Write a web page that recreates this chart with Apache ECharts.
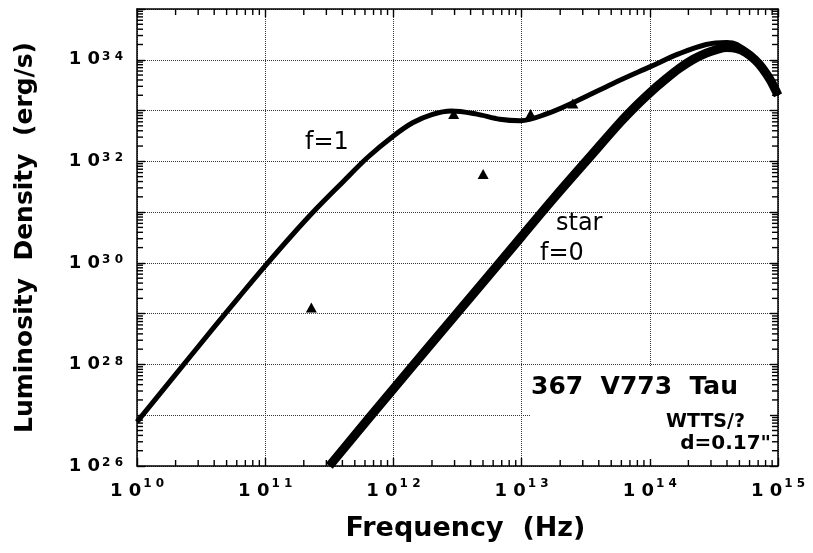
<!DOCTYPE html>
<html><head><meta charset="utf-8">
<script src="https://cdn.jsdelivr.net/npm/echarts@6/dist/echarts.min.js"></script>
<style>html,body{margin:0;padding:0;background:#fff}#c{width:813px;height:553px}</style>
</head><body><div id="c"></div>
<script>
// log10 of frequency (Hz) and log10 of luminosity density (erg/s)
const f1LogNu = [10.00,10.30,10.60,10.80,11.00,11.20,11.40,11.60,11.80,12.00,12.15,12.30,12.45,12.65,12.83,12.99,13.20,13.43,13.71,14.00,14.23,14.44,14.60,14.68,14.80,14.91,15.00];
const f1LogL  = [26.87,27.80,28.73,29.34,29.94,30.52,31.07,31.58,32.08,32.50,32.76,32.92,32.99,32.93,32.83,32.80,32.94,33.19,33.53,33.86,34.12,34.30,34.34,34.30,34.08,33.74,33.30];
const starLogNu = [11.50,12.00,12.50,13.00,13.25,13.53,13.77,13.90,14.00,14.12,14.23,14.34,14.44,14.52,14.60,14.68,14.75,14.82,14.88,14.94,15.00];
const starLogL  = [26.00,27.52,29.02,30.52,31.27,32.08,32.77,33.11,33.35,33.61,33.83,34.01,34.13,34.20,34.24,34.22,34.14,34.00,33.83,33.60,33.30];
const obsLogNu = [11.36,12.47,12.70,13.07,13.40];
const obsLogL  = [29.12,32.93,31.75,32.93,33.14];
const xLabelExps = [10,11,12,13,14,15];
const yLabelExps = [26,28,30,32,34];
const xMinExp = 10, xMaxExp = 15, yMinExp = 26, yMaxExp = 35;
const minorMultipliers = [2,3,4,5,6,7,8,9];

(function () {
const toPts = (xs, ys) => xs.map((x, i) => [Math.pow(10, x), Math.pow(10, ys[i])]);
const X0 = Math.pow(10, xMinExp), X1 = Math.pow(10, xMaxExp);
const Y0 = Math.pow(10, yMinExp), Y1 = Math.pow(10, yMaxExp);
const GRID = { left: 137, top: 9, width: 641, height: 457 };
const gTop = GRID.top, gBottom = GRID.top + GRID.height, gLeft = GRID.left, gRight = GRID.left + GRID.width;

const FONT = 'DejaVu Sans';
function expLabel(list) {
  return function (v) {
    const e = Math.round(Math.log10(v));
    if (list.indexOf(e) < 0) return '';
    return '{b|1 0}{s|' + String(e).split('').join(' ') + '}';
  };
}
const chart = echarts.init(document.getElementById('c'));

// minor tick marks (2..9 per decade), frame decoration
const TL = 6, TW = 1.4;
function xPixFallback(v) { return gLeft + (Math.log10(v) - xMinExp) / (xMaxExp - xMinExp) * GRID.width; }
function yPixFallback(v) { return gBottom - (Math.log10(v) - yMinExp) / (yMaxExp - yMinExp) * GRID.height; }
const tickEls = [];
for (let e = xMinExp; e < xMaxExp; e++) {
  minorMultipliers.forEach(m => {
    const px = xPixFallback(m * Math.pow(10, e));
    tickEls.push({ type: 'rect', silent: true, z: 200, shape: { x: px - TW / 2, y: gBottom - TL, width: TW, height: TL }, style: { fill: '#000' } });
    tickEls.push({ type: 'rect', silent: true, z: 200, shape: { x: px - TW / 2, y: gTop, width: TW, height: TL }, style: { fill: '#000' } });
  });
}
for (let e = yMinExp; e < yMaxExp; e++) {
  minorMultipliers.forEach(m => {
    const py = yPixFallback(m * Math.pow(10, e));
    tickEls.push({ type: 'rect', silent: true, z: 200, shape: { x: gLeft, y: py - TW / 2, width: TL, height: TW }, style: { fill: '#000' } });
    tickEls.push({ type: 'rect', silent: true, z: 200, shape: { x: gRight - TL, y: py - TW / 2, width: TL, height: TW }, style: { fill: '#000' } });
  });
}

const baseAxis = {
  type: 'log', logBase: 10,
  axisLine: { show: true, lineStyle: { color: '#000', width: 1.5 } },
  axisTick: { show: true, inside: true, length: 8, lineStyle: { color: '#000', width: 1.4 } },
};
const annotations = [
  { type: 'rect', z: 1, shape: { x: 530, y: 366, width: 240, height: 93 }, style: { fill: '#fff' } },
  { type: 'text', z: 100, left: 305, top: 131, style: { text: 'f=1', font: '24px "DejaVu Sans"', fill: '#000' } },
  { type: 'text', z: 100, left: 556, top: 212, style: { text: 'star', font: '24px "DejaVu Sans"', fill: '#000' } },
  { type: 'text', z: 100, left: 540, top: 242, style: { text: 'f=0', font: '24px "DejaVu Sans"', fill: '#000' } },
  { type: 'text', z: 100, left: 531, top: 375, style: { text: '367  V773  Tau', font: 'bold 25px "DejaVu Sans"', fill: '#000' } },
  { type: 'text', z: 100, right: 813 - 745, top: 413, style: { text: 'WTTS/?', font: 'bold 19px "DejaVu Sans"', fill: '#000' } },
  { type: 'text', z: 100, right: 813 - 771, top: 434, style: { text: 'd=0.17"', font: 'bold 20px "DejaVu Sans"', fill: '#000' } }
];
chart.setOption({
  backgroundColor: '#fff',
  animation: false,
  grid: GRID,
  xAxis: [
    Object.assign({}, baseAxis, {
      min: X0, max: X1, interval: 1,
      position: 'bottom',
      name: 'Frequency  (Hz)', nameLocation: 'middle', nameGap: 49,
      nameTextStyle: { fontFamily: FONT, fontWeight: 'bold', fontSize: 27, color: '#000', padding: [0, 0, 0, 16] },
      splitLine: { show: true, lineStyle: { color: '#333', type: 'dotted', width: 1 } },
      axisLabel: {
        margin: 14, formatter: expLabel(xLabelExps),
        rich: {
          b: { fontFamily: FONT, fontWeight: 'bold', fontSize: 18, color: '#000', lineHeight: 22 },
          s: { fontFamily: FONT, fontWeight: 'bold', fontSize: 12, color: '#000', lineHeight: 14, padding: [0, 0, 14, 2] }
        }
      }
    }),
    Object.assign({}, baseAxis, {
      min: X0, max: X1, interval: 1,
      position: 'top', axisLabel: { show: false }, splitLine: { show: false }
    })
  ],
  yAxis: [
    Object.assign({}, baseAxis, {
      min: Y0, max: Y1, interval: 1,
      position: 'left',
      name: 'Luminosity  Density  (erg/s)', nameLocation: 'middle', nameGap: 99, nameRotate: 90,
      nameTextStyle: { fontFamily: FONT, fontWeight: 'bold', fontSize: 25, color: '#000' },
      splitLine: { show: true, lineStyle: { color: '#333', type: 'dotted', width: 1 } },
      axisLabel: {
        margin: 14, formatter: expLabel(yLabelExps),
        rich: {
          b: { fontFamily: FONT, fontWeight: 'bold', fontSize: 18, color: '#000', lineHeight: 22 },
          s: { fontFamily: FONT, fontWeight: 'bold', fontSize: 12, color: '#000', lineHeight: 14, padding: [0, 0, 6, 2] }
        }
      }
    }),
    Object.assign({}, baseAxis, {
      min: Y0, max: Y1, interval: 1,
      position: 'right', axisLabel: { show: false }, splitLine: { show: false }
    })
  ],
  graphic: { elements: annotations.concat(tickEls) },
  series: [
    { type: 'line', name: 'f=1', data: toPts(f1LogNu, f1LogL), smooth: 0.35, showSymbol: false, clip: true,
      lineStyle: { color: '#000', width: 5 }, z: 3 },
    { type: 'line', name: 'star f=0', data: toPts(starLogNu, starLogL), smooth: 0.35, showSymbol: false, clip: true,
      lineStyle: { color: '#000', width: 9 }, z: 3 },
    { type: 'scatter', name: 'observed', data: toPts(obsLogNu, obsLogL), symbol: 'triangle', symbolSize: [11, 10],
      itemStyle: { color: '#000', opacity: 1 }, z: 4 }
  ]
});
})();
</script></body></html>
